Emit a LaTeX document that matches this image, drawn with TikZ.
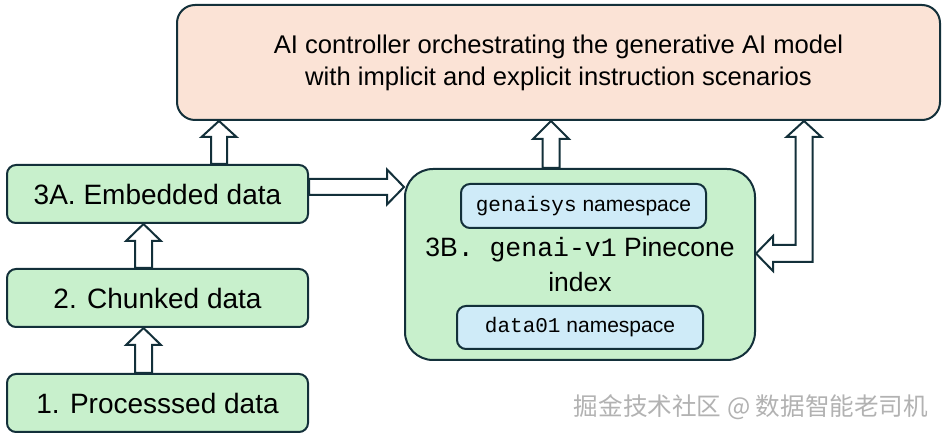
\documentclass[tikz,border=0pt]{standalone}
\usepackage{fontspec}
\setmainfont{Liberation Sans}
\setmonofont{Liberation Mono}
\newfontfamily\cjk{Noto Sans CJK SC}
\usetikzlibrary{calc}
\definecolor{edge}{HTML}{13303A}
\definecolor{gfill}{HTML}{C8F0CC}
\definecolor{bfill}{HTML}{CFEBF8}
\definecolor{pfill}{HTML}{FBE3D6}
\begin{document}
\begin{tikzpicture}[x=1pt,y=-1pt,
  box/.style={draw=edge, line width=2, rounded corners=9, inner sep=0, align=center, text=black},
  databox/.style={box, fill=gfill, minimum width=301, minimum height=58, font=\fontsize{28}{34}\selectfont},
  nsbox/.style={box, fill=bfill, minimum width=245, minimum height=44, font=\fontsize{21}{25}\selectfont},
  hollow/.style={draw=edge, line width=2, fill=white, line join=miter},
]
\useasboundingbox[fill=white] (0,0) rectangle (946,438);

% nodes
\node[box, fill=pfill, rounded corners=18, minimum width=763, minimum height=115,
      font=\fontsize{25.6}{32}\selectfont] (top) at (558.5,62.5)
  {AI controller orchestrating the generative AI model\\with implicit and explicit instruction scenarios};
\node[databox] (a3) at (157.5,194) {3A. Embedded data};
\node[databox] (a2) at (157.5,298) {2. Chunked data};
\node[databox] (a1) at (157.5,403) {1. Processsed data};
\node[box, fill=gfill, rounded corners=28, minimum width=350, minimum height=191,
      font=\fontsize{26.5}{35}\selectfont] (b3) at (580,264.5)
  {3B{\ttfamily . genai-v1} Pinecone\\index};
\node[nsbox] (ns1) at (583.5,206) {{\ttfamily genaisys} namespace};
\node[nsbox, minimum width=246, minimum height=43] (ns2) at (580,327.5) {{\ttfamily data01} namespace};
\node[font=\cjk\fontsize{24.6}{28}\selectfont, text=gray!60, inner sep=0] (wm) at (751,407)
  {掘金技术社区 @ 数据智能老司机};

% hollow up arrows: #1 lower node, #2 upper node, #3 x
\newcommand\hollowup[6]{%
  \path (#3,0) coordinate (hx);
  \coordinate (hb) at (hx |- #1.north);
  \coordinate (ht) at (hx |- #2.south);
  \draw[hollow] ($(hb)+(-#4,0)$) -- ($(ht)+(-#4,#6)$) -- ($(ht)+(-#5,#6)$) -- (ht)
    -- ($(ht)+(#5,#6)$) -- ($(ht)+(#4,#6)$) -- ($(hb)+(#4,0)$) -- cycle;
}
\hollowup{a3}{top}{219}{8}{17.5}{16}
\hollowup{a2}{a3}{143.5}{8.5}{17.5}{17}
\hollowup{a1}{a2}{143.5}{8.5}{17.5}{17}
\hollowup{b3}{top}{551}{8.5}{18}{18}

% 3A -> 3B
\path (0,187) coordinate (ry);
\coordinate (rs) at (ry -| a3.east);
\coordinate (re) at (ry -| b3.west);
\draw[hollow] ($(rs)+(0,-8)$) -- ($(re)+(-17,-8)$) -- ($(re)+(-17,-17.5)$) -- (re)
  -- ($(re)+(-17,17.5)$) -- ($(re)+(-17,8)$) -- ($(rs)+(0,8)$) -- cycle;

% double arrow 3B <-> top
\path (804,0) coordinate (rx);
\coordinate (E) at ($(b3.east)+(0,-11)$);
\coordinate (T) at (rx |- top.south);
\coordinate (C) at (rx |- E);
\draw[hollow] (T) -- ($(T)+(17.5,16)$) -- ($(T)+(8.5,16)$) -- ($(C)+(8.5,8.5)$)
  -- ($(E)+(17,8.5)$) -- ($(E)+(17,17.5)$) -- (E) -- ($(E)+(17,-17.5)$)
  -- ($(E)+(17,-8.5)$) -- ($(C)+(-8.5,-8.5)$) -- ($(T)+(-8.5,16)$)
  -- ($(T)+(-17.5,16)$) -- cycle;
\end{tikzpicture}
\end{document}
